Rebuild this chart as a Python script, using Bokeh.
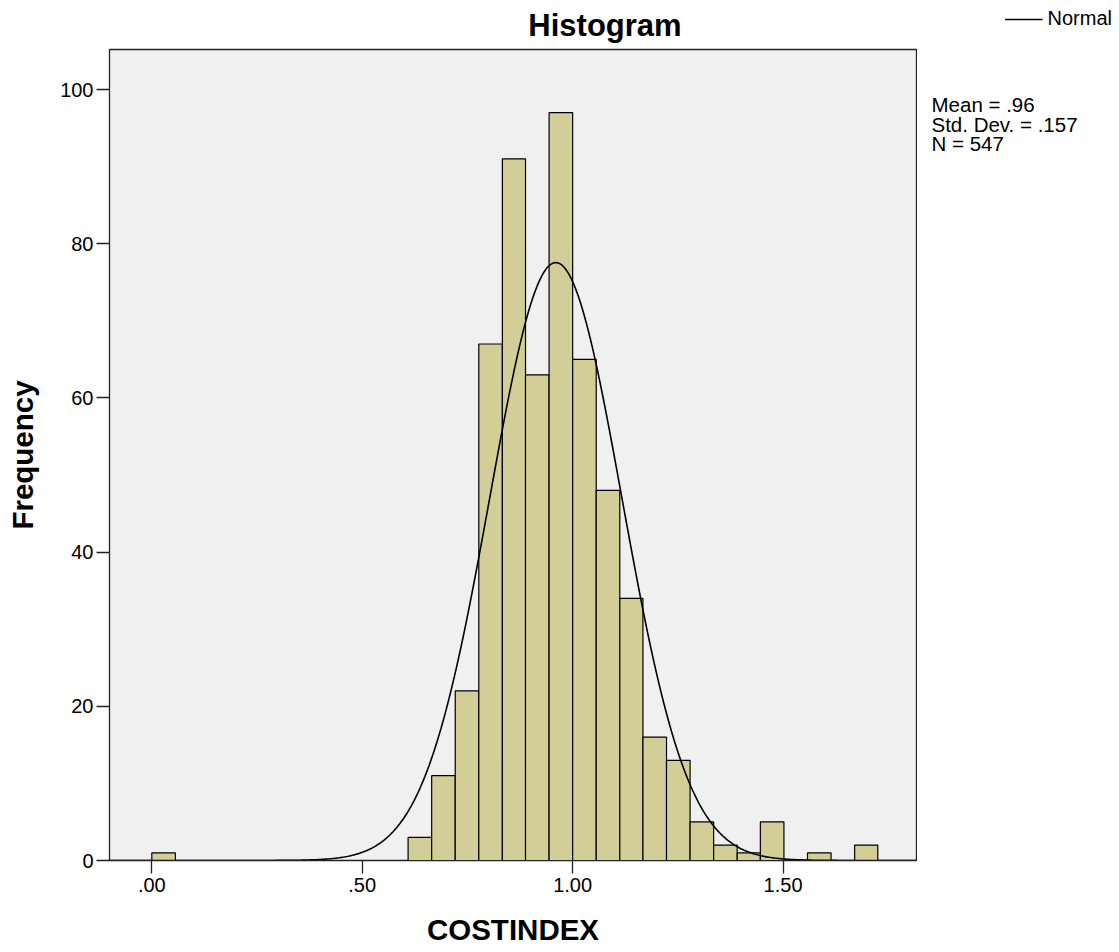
import numpy as np
from bokeh.plotting import figure
from bokeh.layouts import row, column
from bokeh.models import (ColumnDataSource, FixedTicker, CustomJSTickFormatter, Label,
                          Legend, LegendItem, Range1d)
from bokeh.embed import file_html
from bokeh.resources import INLINE

# ---- data ----
bin_left = [0.000, 0.609, 0.665, 0.721, 0.777, 0.833, 0.888, 0.944, 1.000, 1.056,
            1.112, 1.167, 1.223, 1.279, 1.335, 1.391, 1.446, 1.558, 1.670]
bin_right = [0.056, 0.665, 0.721, 0.777, 0.833, 0.888, 0.944, 1.000, 1.056, 1.112,
             1.167, 1.223, 1.279, 1.335, 1.391, 1.446, 1.502, 1.614, 1.725]
counts = [1, 3, 11, 22, 67, 91, 63, 97, 65, 48, 34, 16, 13, 5, 2, 1, 5, 1, 2]
bin_width = 0.0558
mean_val = 0.96
std_val = 0.157
n_val = 547
x_ticks = [0.0, 0.5, 1.0, 1.5]
y_ticks = [0, 20, 40, 60, 80, 100]
stats_lines = ["Mean = .96", "Std. Dev. = .157", "N = 547"]
title_text = "Histogram"

FONT = "Liberation Sans"
HEAD_H = 44


def blank(width, height):
    f = figure(width=width, height=height, output_backend="svg", toolbar_location=None,
               x_range=Range1d(0, width), y_range=Range1d(height, 0),
               x_axis_location=None, y_axis_location=None, title=None,
               min_border=0, min_border_left=0, min_border_right=0,
               min_border_top=0, min_border_bottom=0)
    f.outline_line_color = None
    f.grid.visible = False
    f.background_fill_color = "white"
    f.border_fill_color = "white"
    return f


# ---- header: title and legend ----
head = blank(1119, HEAD_H)
head.add_layout(Label(x=604.5, y=24.5, text=title_text, text_align="center",
                      text_baseline="alphabetic", text_font=FONT, text_font_size="31px",
                      text_font_style="bold", text_color="black"))
key = head.line(x=[0, 1], y=[-10, -10], line_color="black", line_width=1.6)
legend = Legend(items=[LegendItem(label="Normal", renderers=[key])],
                location="top_right", background_fill_alpha=0, border_line_color=None,
                padding=0, margin=7, spacing=0, glyph_width=38, glyph_height=20,
                label_standoff=5, label_text_font=FONT, label_text_font_size="20px",
                label_text_color="black", label_height=20)
head.add_layout(legend)

# ---- main histogram ----
p = figure(width=917, height=952 - HEAD_H, output_backend="svg", toolbar_location=None,
           x_range=Range1d(-0.1005, 1.817), y_range=Range1d(0, 105.2), title=None,
           min_border_left=109, min_border_right=1, min_border_top=49 - HEAD_H,
           min_border_bottom=92)
p.background_fill_color = "#f0f0f0"
p.border_fill_color = "white"
p.outline_line_color = "#222222"
p.outline_line_width = 1.3
p.grid.visible = False

src = ColumnDataSource(dict(left=bin_left, right=bin_right, top=counts,
                            bottom=[0] * len(counts)))
p.quad(left="left", right="right", top="top", bottom="bottom", source=src,
       fill_color="#d3ce97", line_color="black", line_width=1.2)

xs = np.linspace(-0.1, 1.817, 600)
ys = n_val * bin_width / (std_val * np.sqrt(2 * np.pi)) * np.exp(-0.5 * ((xs - mean_val) / std_val) ** 2)
p.line(xs, ys, line_color="black", line_width=1.6)

for ax in (p.xaxis[0], p.yaxis[0]):
    ax.major_tick_out = 13
    ax.major_tick_in = 0
    ax.minor_tick_line_color = None
    ax.axis_line_color = "#222222"
    ax.major_tick_line_color = "#222222"
    ax.major_tick_line_width = 1.3
    ax.major_label_text_font = FONT
    ax.major_label_text_font_size = "20px"
    ax.major_label_text_color = "black"
    ax.axis_label_text_font = FONT
    ax.axis_label_text_font_size = "29.5px"
    ax.axis_label_text_font_style = "bold"
    ax.axis_label_text_color = "black"

p.xaxis.ticker = FixedTicker(ticks=x_ticks)
p.xaxis.formatter = CustomJSTickFormatter(
    code="return tick < 1 ? tick.toFixed(2).slice(1) : tick.toFixed(2);")
p.xaxis.major_label_standoff = 4
p.xaxis.axis_label = "COSTINDEX"
p.xaxis.axis_label_standoff = 18

p.yaxis.ticker = FixedTicker(ticks=y_ticks)
p.yaxis.major_label_standoff = 3
p.yaxis.axis_label = "Frequency"
p.yaxis.axis_label_standoff = 18
p.yaxis.major_label_orientation = "horizontal"

# ---- side panel with the statistics ----
side = blank(202, 952 - HEAD_H)
for line, yb in zip(stats_lines, [104 - HEAD_H, 123.5 - HEAD_H, 143 - HEAD_H]):
    side.add_layout(Label(x=14, y=yb, text=line, text_align="left",
                          text_baseline="alphabetic", text_font=FONT,
                          text_font_size="20.5px", text_color="black"))

layout = column(row(head), row(p, column(side), spacing=0), spacing=0)
open("out.html", "w").write(file_html(layout, INLINE))
